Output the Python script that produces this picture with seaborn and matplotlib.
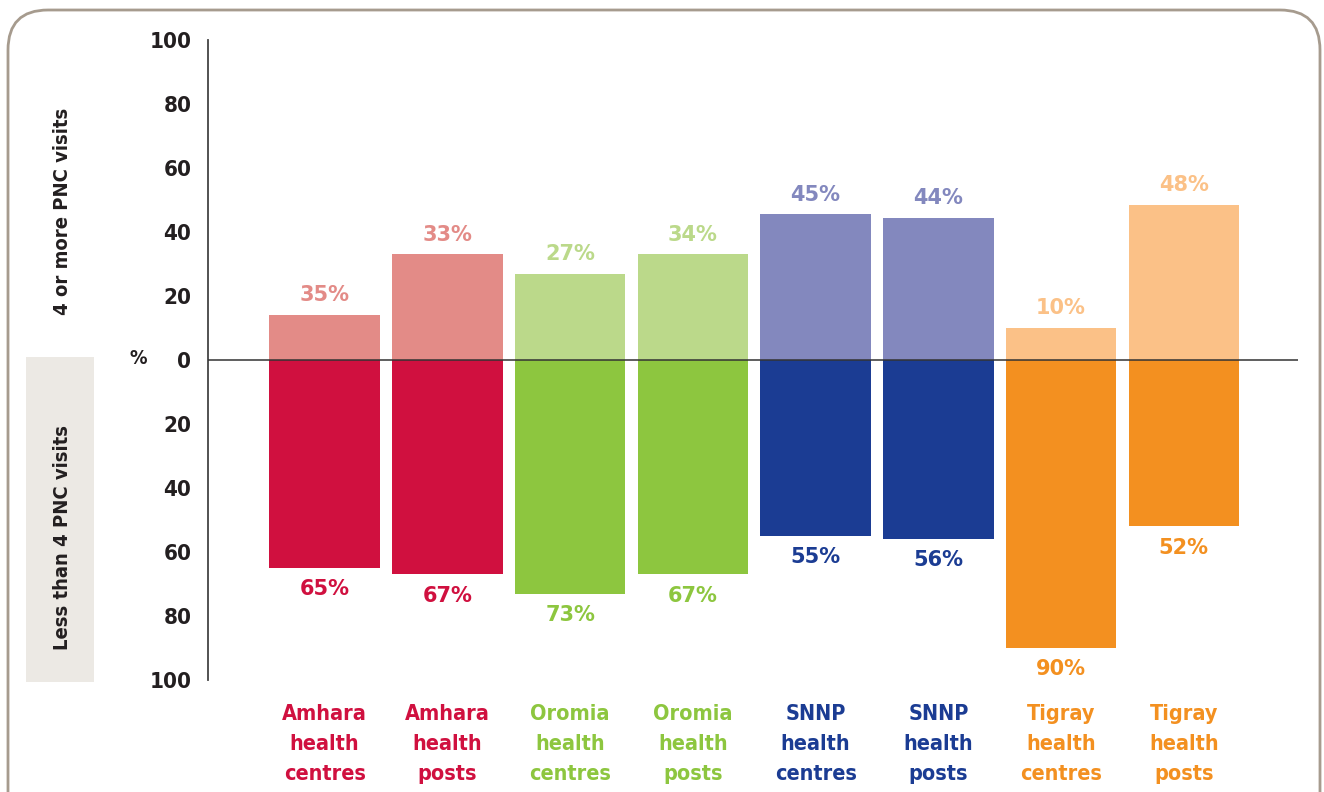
import matplotlib
matplotlib.use("Agg")
import matplotlib.pyplot as plt
import matplotlib.patches as mpatches
from matplotlib.transforms import IdentityTransform, blended_transform_factory
import seaborn as sns
import pandas as pd

# datos
categorias = ["Amhara\nhealth\ncentres", "Amhara\nhealth\nposts",
              "Oromia\nhealth\ncentres", "Oromia\nhealth\nposts",
              "SNNP\nhealth\ncentres", "SNNP\nhealth\nposts",
              "Tigray\nhealth\ncentres", "Tigray\nhealth\nposts"]
arriba = [14, 33, 27, 33, 45.5, 44.5, 10, 48.5]      # 4 or more PNC visits (bar height)
arriba_txt = ["35%", "33%", "27%", "34%", "45%", "44%", "10%", "48%"]
abajo = [65, 67, 73, 67, 55, 56, 90, 52]              # less than 4 PNC visits
abajo_txt = ["65%", "67%", "73%", "67%", "55%", "56%", "90%", "52%"]
ticks = [100, 80, 60, 40, 20, 0, -20, -40, -60, -80, -100]

col_oscuro = ["#D0103F", "#D0103F", "#8DC63F", "#8DC63F",
              "#1B3C93", "#1B3C93", "#F39020", "#F39020"]
col_claro = ["#E38B87", "#E38B87", "#BBD98A", "#BBD98A",
             "#8388BE", "#8388BE", "#FBC187", "#FBC187"]

sns.set_style("white")
# fuente estrecha
fn = dict(family="DejaVu Sans", fontstretch="condensed", fontweight="bold")

df_arr = pd.DataFrame({"cat": categorias, "val": arriba})
df_abj = pd.DataFrame({"cat": categorias, "val": [-v for v in abajo]})

fig = plt.figure(figsize=(13.24, 7.92), dpi=100)
ax = fig.add_axes([208 / 1324, 1 - 680 / 792, (1298 - 208) / 1324, 640 / 792])

sns.barplot(data=df_arr, x="cat", y="val", hue="cat", palette=col_claro,
            width=0.9, saturation=1, legend=False, ax=ax, linewidth=0)
sns.barplot(data=df_abj, x="cat", y="val", hue="cat", palette=col_oscuro,
            width=0.9, saturation=1, legend=False, ax=ax, linewidth=0)

ax.set_xlim(-0.95, 7.93)
ax.set_ylim(-100, 100)
ax.axhline(0, color="#333333", lw=1.1, zorder=3)
ax.set_yticks(ticks)
ax.set_yticklabels([str(abs(t)) for t in ticks], fontsize=16, color="#231F20", **fn)
ax.tick_params(axis="y", length=0, pad=12)
ax.set_xticks([])
ax.set_xlabel("")
ax.set_ylabel("")
for s in ["top", "right", "bottom"]:
    ax.spines[s].set_visible(False)
ax.spines["left"].set_color("#444444")
ax.spines["left"].set_linewidth(1.3)

# etiquetas de valores
for i in range(len(categorias)):
    ax.annotate(arriba_txt[i], (i, arriba[i]), xytext=(0, 7), textcoords="offset points",
                ha="center", va="bottom", fontsize=15, fontweight="bold", color=col_claro[i])
    ax.annotate(abajo_txt[i], (i, -abajo[i]), xytext=(0, -8), textcoords="offset points",
                ha="center", va="top", fontsize=15, fontweight="bold", color=col_oscuro[i])

# categorias debajo
trans = blended_transform_factory(ax.transData, fig.transFigure)
for i, c in enumerate(categorias):
    ax.text(i, 1 - 704 / 792, c, transform=trans, ha="center", va="top",
            fontsize=15.5, color=col_oscuro[i], linespacing=1.62, **fn)

# marco redondeado y caja gris
marco = mpatches.FancyBboxPatch((8, -60), 1312, 842, boxstyle="round,pad=0,rounding_size=40",
                                transform=IdentityTransform(), fill=False,
                                edgecolor="#A69B8E", linewidth=2)
fig.patches.append(marco)
caja = mpatches.Rectangle((26, 792 - 682), 68, 325, transform=IdentityTransform(),
                          facecolor="#ECE9E4", edgecolor="none")
fig.patches.append(caja)

fig.text(62 / 1324, 1 - 211 / 792, "4 or more PNC visits", rotation=90, ha="center",
         va="center", fontsize=14.5, color="#231F20", **fn)
fig.text(62 / 1324, 1 - 537 / 792, "Less than 4 PNC visits", rotation=90, ha="center",
         va="center", fontsize=14.5, color="#231F20", **fn)
fig.text(138 / 1324, 1 - 358 / 792, "%", ha="center", va="center", fontsize=14,
         color="#231F20", **fn)

plt.savefig("out.png", dpi=100)
plt.close()
